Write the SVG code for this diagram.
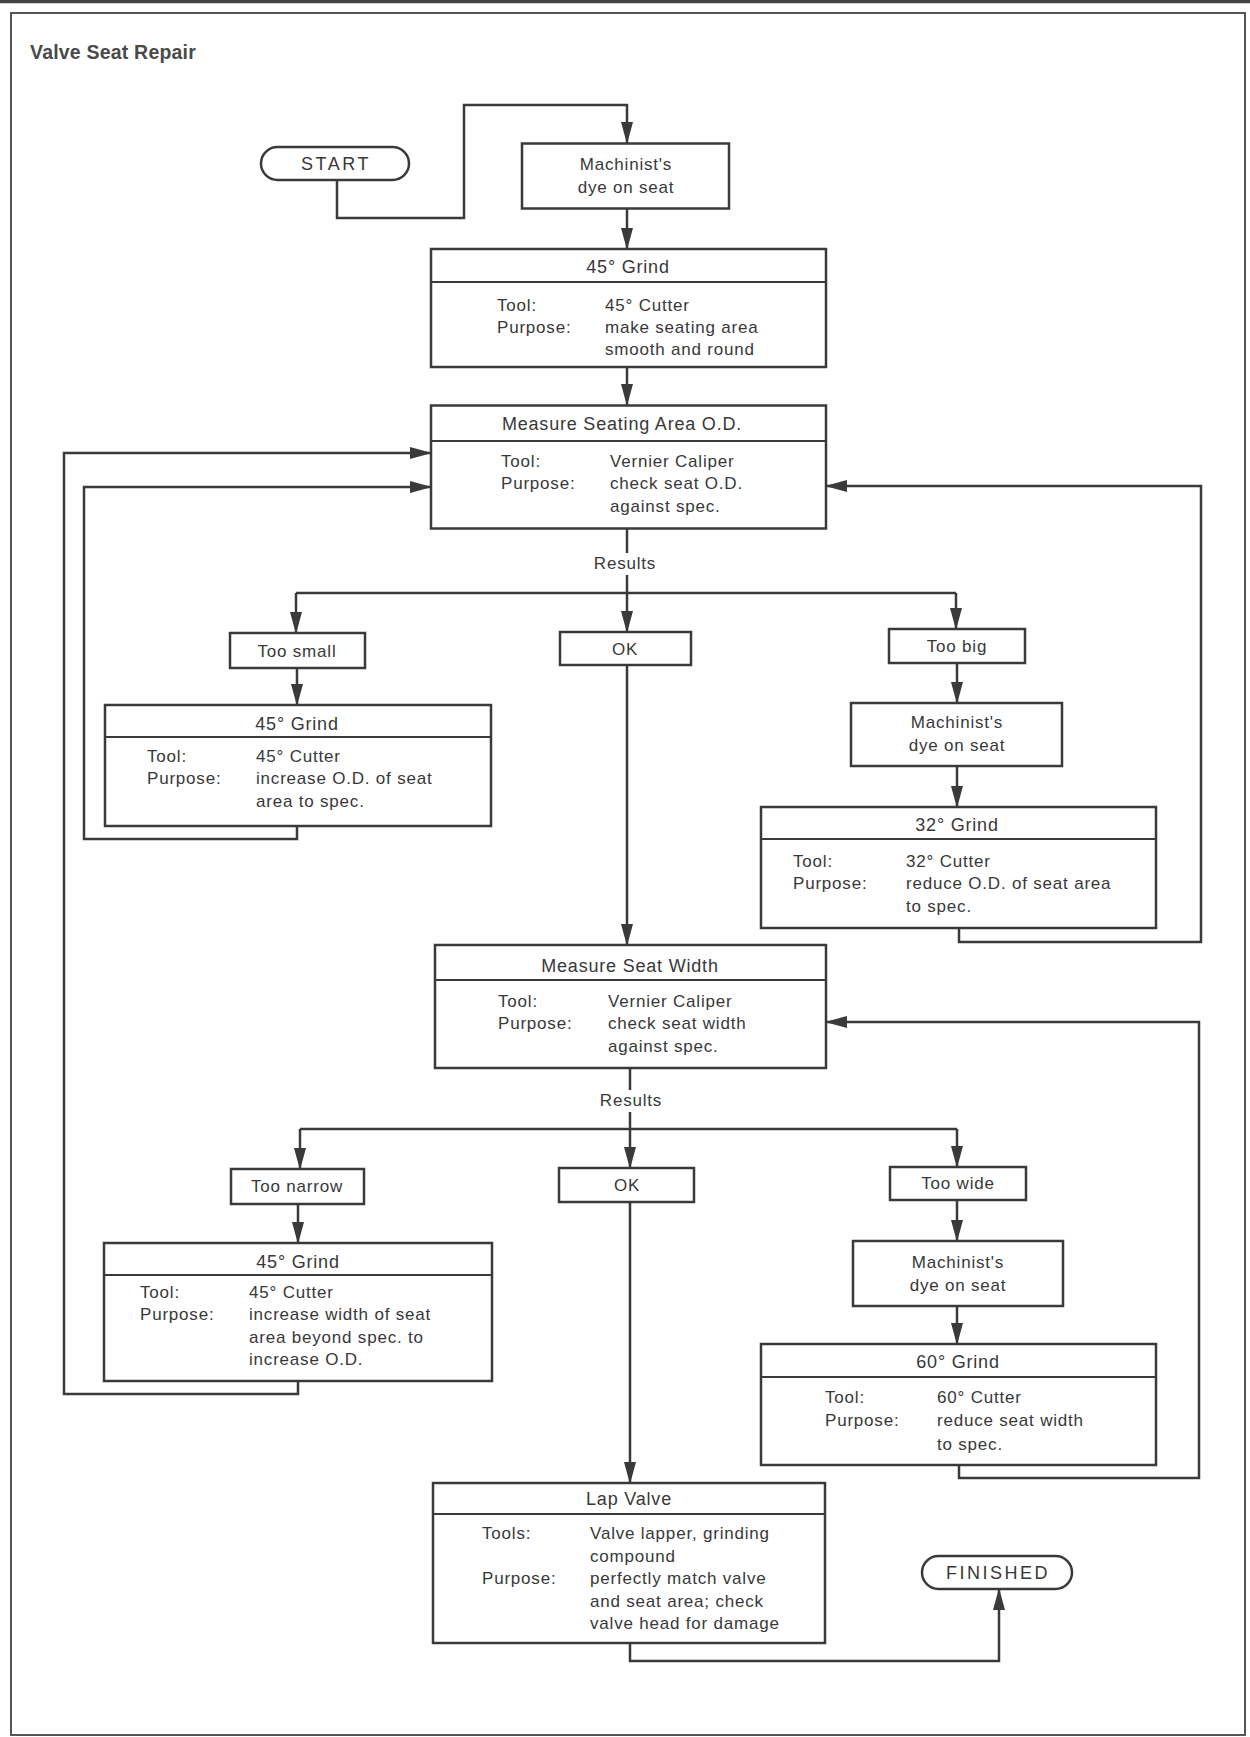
<svg xmlns="http://www.w3.org/2000/svg" width="1250" height="1737" viewBox="0 0 1250 1737">
<style>
.bx{fill:#fff;stroke:#3a3a3a;stroke-width:2.5}
.dv{stroke:#3a3a3a;stroke-width:2.2}
.cn{fill:none;stroke:#3a3a3a;stroke-width:2.5}
.ar{fill:none;stroke:#3a3a3a;stroke-width:2.5;marker-end:url(#ah)}
text{font-family:"Liberation Sans",Arial,sans-serif;fill:#383838;font-size:17px;letter-spacing:0.8px}
.c{text-anchor:middle}
.h{font-size:18px}
.tt{font-weight:bold;font-size:19.5px;letter-spacing:0.2px;fill:#4a4a4a}
.term{font-size:18px;letter-spacing:2.5px}
</style>
<defs>
<marker id="ah" markerUnits="userSpaceOnUse" markerWidth="22" markerHeight="12" refX="21" refY="6" orient="auto">
<path d="M0,0 L22,6 L0,12 z" fill="#3a3a3a"/>
</marker>
</defs>
<rect x="0" y="0" width="1250" height="1737" fill="#fff"/>
<line x1="0" y1="1.5" x2="1250" y2="1.5" stroke="#444" stroke-width="3.5"/>
<rect x="11" y="13" width="1234" height="1722" fill="none" stroke="#555" stroke-width="2"/>
<text class="tt" x="30" y="59">Valve Seat Repair</text>

<g id="connectors">
<path class="ar" d="M337,180 V218 H464 V105 H627 V143"/>
<path class="ar" d="M627,208 V249"/>
<path class="ar" d="M627,367 V405"/>
<path class="cn" d="M627,529 V553"/>
<path class="ar" d="M627,575 V632"/>
<path class="cn" d="M296,593 H956"/>
<path class="ar" d="M296,593 V633"/>
<path class="ar" d="M956,593 V629"/>
<path class="ar" d="M297,668 V705"/>
<path class="ar" d="M297,826 V839 H84 V487 H431"/>
<path class="ar" d="M627,665 V945"/>
<path class="ar" d="M957,663 V703"/>
<path class="ar" d="M957,766 V807"/>
<path class="ar" d="M959,928 V942 H1201 V486 H826"/>
<path class="cn" d="M630,1068 V1090"/>
<path class="ar" d="M630,1112 V1168"/>
<path class="cn" d="M300,1129 H957"/>
<path class="ar" d="M300,1129 V1169"/>
<path class="ar" d="M957,1129 V1167"/>
<path class="ar" d="M298,1204 V1243"/>
<path class="ar" d="M298,1381 V1394 H64 V453 H431"/>
<path class="ar" d="M957,1200 V1241"/>
<path class="ar" d="M957,1306 V1344"/>
<path class="ar" d="M959,1465 V1478 H1199 V1022 H826"/>
<path class="ar" d="M630,1202 V1483"/>
<path class="ar" d="M630,1643 V1661 H999 V1589"/>
<text class="c" x="625" y="569">Results</text>
<text class="c" x="631" y="1106">Results</text>
</g>

<g id="start">
<rect class="bx" x="261" y="147" width="148" height="33" rx="16.5"/>
<text class="c term" x="336" y="170">START</text>
</g>

<g id="dye1">
<rect class="bx" x="522" y="143.5" width="207" height="65"/>
<text class="c" x="626" y="170">Machinist's</text>
<text class="c" x="626" y="192.5">dye on seat</text>
</g>

<g id="grind45a">
<rect class="bx" x="431" y="249" width="395" height="118"/>
<line class="dv" x1="431" y1="282" x2="826" y2="282"/>
<text class="c h" x="628" y="273">45° Grind</text>
<text x="497" y="311">Tool:</text><text x="605" y="311">45° Cutter</text>
<text x="497" y="333">Purpose:</text><text x="605" y="333">make seating area</text>
<text x="605" y="355">smooth and round</text>
</g>

<g id="measureOD">
<rect class="bx" x="431" y="405.5" width="395" height="123"/>
<line class="dv" x1="431" y1="441" x2="826" y2="441"/>
<text class="c h" x="622" y="430">Measure Seating Area O.D.</text>
<text x="501" y="467">Tool:</text><text x="610" y="467">Vernier Caliper</text>
<text x="501" y="489">Purpose:</text><text x="610" y="489">check seat O.D.</text>
<text x="610" y="512">against spec.</text>
</g>

<g id="toosmall">
<rect class="bx" x="230" y="633" width="135" height="35"/>
<text class="c" x="297" y="657">Too small</text>
</g>

<g id="ok1">
<rect class="bx" x="560" y="632" width="131" height="33"/>
<text class="c" x="625" y="655">OK</text>
</g>

<g id="toobig">
<rect class="bx" x="889" y="629" width="136" height="34"/>
<text class="c" x="957" y="652">Too big</text>
</g>

<g id="grind45b">
<rect class="bx" x="105" y="705" width="386" height="121"/>
<line class="dv" x1="105" y1="737" x2="491" y2="737"/>
<text class="c h" x="297" y="730">45° Grind</text>
<text x="147" y="762">Tool:</text><text x="256" y="762">45° Cutter</text>
<text x="147" y="784">Purpose:</text><text x="256" y="784">increase O.D. of seat</text>
<text x="256" y="807">area to spec.</text>
</g>

<g id="dye2">
<rect class="bx" x="851" y="703" width="211" height="63"/>
<text class="c" x="957" y="728">Machinist's</text>
<text class="c" x="957" y="751">dye on seat</text>
</g>

<g id="grind32">
<rect class="bx" x="761" y="807" width="395" height="121"/>
<line class="dv" x1="761" y1="839" x2="1156" y2="839"/>
<text class="c h" x="957" y="831">32° Grind</text>
<text x="793" y="867">Tool:</text><text x="906" y="867">32° Cutter</text>
<text x="793" y="889">Purpose:</text><text x="906" y="889">reduce O.D. of seat area</text>
<text x="906" y="912">to spec.</text>
</g>

<g id="measureWidth">
<rect class="bx" x="435" y="945" width="391" height="123"/>
<line class="dv" x1="435" y1="980" x2="826" y2="980"/>
<text class="c h" x="630" y="972">Measure Seat Width</text>
<text x="498" y="1007">Tool:</text><text x="608" y="1007">Vernier Caliper</text>
<text x="498" y="1029">Purpose:</text><text x="608" y="1029">check seat width</text>
<text x="608" y="1052">against spec.</text>
</g>

<g id="toonarrow">
<rect class="bx" x="231" y="1169" width="133" height="35"/>
<text class="c" x="297" y="1192">Too narrow</text>
</g>

<g id="ok2">
<rect class="bx" x="559" y="1168" width="135" height="34"/>
<text class="c" x="627" y="1191">OK</text>
</g>

<g id="toowide">
<rect class="bx" x="890" y="1167" width="136" height="33"/>
<text class="c" x="958" y="1189">Too wide</text>
</g>

<g id="grind45c">
<rect class="bx" x="104" y="1243" width="388" height="138"/>
<line class="dv" x1="104" y1="1275" x2="492" y2="1275"/>
<text class="c h" x="298" y="1268">45° Grind</text>
<text x="140" y="1298">Tool:</text><text x="249" y="1298">45° Cutter</text>
<text x="140" y="1320">Purpose:</text><text x="249" y="1320">increase width of seat</text>
<text x="249" y="1343">area beyond spec. to</text>
<text x="249" y="1365">increase O.D.</text>
</g>

<g id="dye3">
<rect class="bx" x="853" y="1241" width="210" height="65"/>
<text class="c" x="958" y="1268">Machinist's</text>
<text class="c" x="958" y="1291">dye on seat</text>
</g>

<g id="grind60">
<rect class="bx" x="761" y="1344" width="395" height="121"/>
<line class="dv" x1="761" y1="1377" x2="1156" y2="1377"/>
<text class="c h" x="958" y="1368">60° Grind</text>
<text x="825" y="1403">Tool:</text><text x="937" y="1403">60° Cutter</text>
<text x="825" y="1426">Purpose:</text><text x="937" y="1426">reduce seat width</text>
<text x="937" y="1450">to spec.</text>
</g>

<g id="lapValve">
<rect class="bx" x="433" y="1483" width="392" height="160"/>
<line class="dv" x1="433" y1="1514" x2="825" y2="1514"/>
<text class="c h" x="629" y="1505">Lap Valve</text>
<text x="482" y="1539">Tools:</text><text x="590" y="1539">Valve lapper, grinding</text>
<text x="590" y="1562">compound</text>
<text x="482" y="1584">Purpose:</text><text x="590" y="1584">perfectly match valve</text>
<text x="590" y="1607">and seat area; check</text>
<text x="590" y="1629">valve head for damage</text>
</g>

<g id="finished">
<rect class="bx" x="922" y="1556" width="150" height="33" rx="16.5"/>
<text class="c term" x="998" y="1579">FINISHED</text>
</g>
</svg>
